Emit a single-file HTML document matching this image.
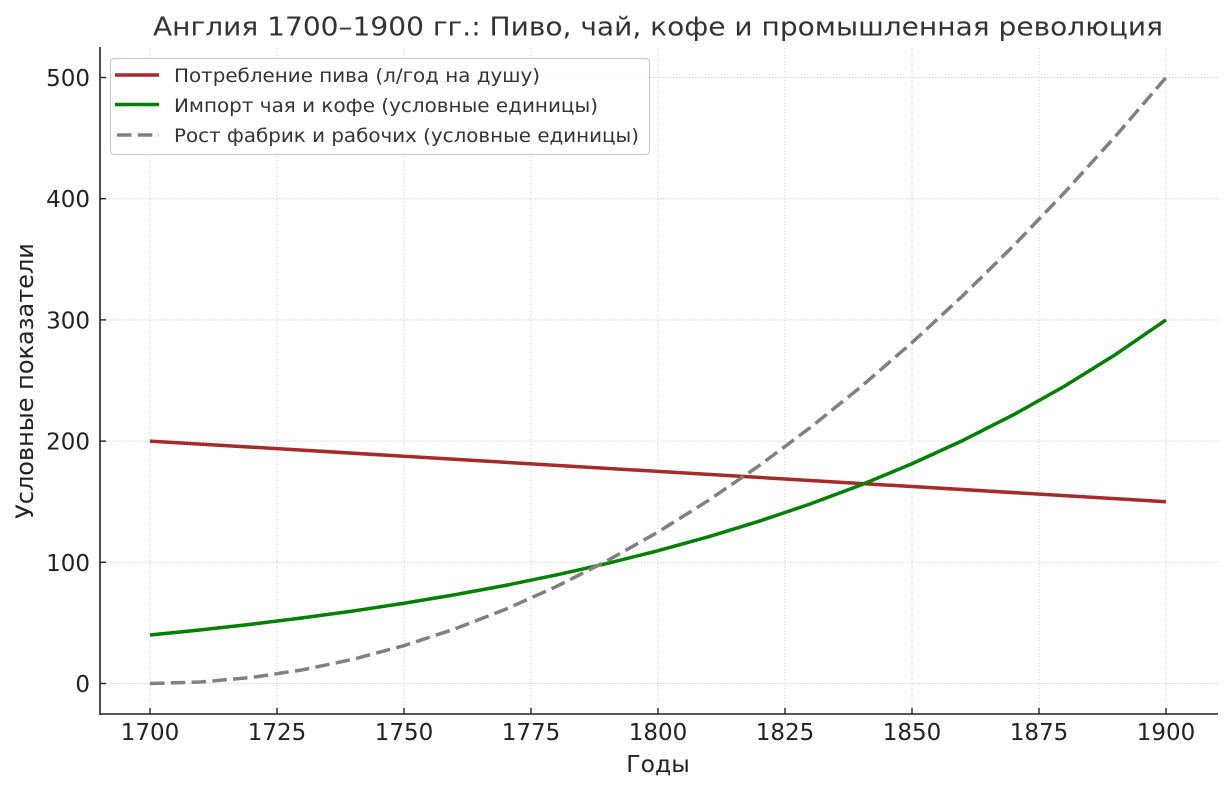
<!DOCTYPE html>
<html><head><meta charset="utf-8"><style>
html,body{margin:0;padding:0;background:#fff}
svg{display:block}
text{font-family:"DejaVu Sans","Liberation Sans",sans-serif}
</style></head><body>
<svg width="1231" height="791" viewBox="0 0 1231 791" xmlns="http://www.w3.org/2000/svg">
<rect width="1231" height="791" fill="#fff"/>
<!-- grid -->
<g stroke="#cccccc" stroke-width="1" stroke-dasharray="1.2,2" fill="none">
<line x1="150" y1="48" x2="150" y2="714"/>
<line x1="277" y1="48" x2="277" y2="714"/>
<line x1="404" y1="48" x2="404" y2="714"/>
<line x1="531" y1="48" x2="531" y2="714"/>
<line x1="658" y1="48" x2="658" y2="714"/>
<line x1="785" y1="48" x2="785" y2="714"/>
<line x1="912" y1="48" x2="912" y2="714"/>
<line x1="1039" y1="48" x2="1039" y2="714"/>
<line x1="1166" y1="48" x2="1166" y2="714"/>
<line x1="100" y1="683.5" x2="1218" y2="683.5"/>
<line x1="100" y1="562.3" x2="1218" y2="562.3"/>
<line x1="100" y1="441.1" x2="1218" y2="441.1"/>
<line x1="100" y1="319.9" x2="1218" y2="319.9"/>
<line x1="100" y1="198.7" x2="1218" y2="198.7"/>
<line x1="100" y1="77.5" x2="1218" y2="77.5"/>
</g>
<!-- series -->
<polyline fill="none" stroke="#a52a2a" stroke-width="3.5" points="150,441.1 1166,501.7"/>
<polyline fill="none" stroke="#008000" stroke-width="3.5" stroke-linejoin="round" points="150,635.02 200.8,629.88 251.6,624.2 302.4,617.91 353.2,610.96 404,603.27 454.8,594.77 505.6,585.35 556.4,574.95 607.2,563.45 658,550.74 708.8,536.65 759.6,521.09 810.4,503.88 861.2,484.84 912,463.77 962.8,440.48 1013.6,414.72 1064.4,386.23 1115.2,354.72 1166,319.9"/>
<polyline fill="none" stroke="#808080" stroke-width="3.5" stroke-dasharray="14.5,6.3" stroke-linejoin="round" points="150,683.5 200.8,681.99 251.6,677.44 302.4,669.87 353.2,659.26 404,645.63 454.8,628.96 505.6,609.26 556.4,586.54 607.2,560.79 658,532 708.8,500.19 759.6,465.34 810.4,427.47 861.2,386.56 912,342.63 962.8,295.66 1013.6,245.66 1064.4,192.64 1115.2,136.58 1166,77.5"/>
<!-- spines -->
<g stroke="#222" stroke-width="1.6" fill="none">
<line x1="100" y1="47" x2="100" y2="714.8"/>
<line x1="99.2" y1="714" x2="1218" y2="714"/>
</g>
<!-- ticks (inward) -->
<g stroke="#222" stroke-width="1.4">
<line x1="150" y1="714" x2="150" y2="708"/>
<line x1="277" y1="714" x2="277" y2="708"/>
<line x1="404" y1="714" x2="404" y2="708"/>
<line x1="531" y1="714" x2="531" y2="708"/>
<line x1="658" y1="714" x2="658" y2="708"/>
<line x1="785" y1="714" x2="785" y2="708"/>
<line x1="912" y1="714" x2="912" y2="708"/>
<line x1="1039" y1="714" x2="1039" y2="708"/>
<line x1="1166" y1="714" x2="1166" y2="708"/>
<line x1="100" y1="683.5" x2="106" y2="683.5"/>
<line x1="100" y1="562.3" x2="106" y2="562.3"/>
<line x1="100" y1="441.1" x2="106" y2="441.1"/>
<line x1="100" y1="319.9" x2="106" y2="319.9"/>
<line x1="100" y1="198.7" x2="106" y2="198.7"/>
<line x1="100" y1="77.5" x2="106" y2="77.5"/>
</g>
<!-- tick labels -->
<g fill="#222" font-size="23" text-anchor="middle">
<text x="150" y="740">1700</text>
<text x="277" y="740">1725</text>
<text x="404" y="740">1750</text>
<text x="531" y="740">1775</text>
<text x="658" y="740">1800</text>
<text x="785" y="740">1825</text>
<text x="912" y="740">1850</text>
<text x="1039" y="740">1875</text>
<text x="1166" y="740">1900</text>
</g>
<g fill="#222" font-size="23" text-anchor="end">
<text x="90" y="692">0</text>
<text x="90" y="570.8">100</text>
<text x="90" y="449.6">200</text>
<text x="90" y="328.4">300</text>
<text x="90" y="207.2">400</text>
<text x="90" y="86">500</text>
</g>
<!-- axis labels -->
<text x="658" y="772" font-size="23.5" fill="#222" text-anchor="middle">Годы</text>
<text transform="translate(33,381) rotate(-90)" font-size="24" fill="#222" text-anchor="middle">Условные показатели</text>
<!-- title -->
<text x="153" y="35.5" font-size="26" fill="#333" textLength="1010" lengthAdjust="spacingAndGlyphs">Англия 1700–1900 гг.: Пиво, чай, кофе и промышленная революция</text>
<!-- legend -->
<rect x="110.5" y="58.5" width="539" height="96" rx="4" ry="4" fill="#fff" fill-opacity="0.85" stroke="#cccccc" stroke-width="1.2"/>
<line x1="115" y1="75" x2="159" y2="75" stroke="#a52a2a" stroke-width="3.5"/>
<line x1="115" y1="104.5" x2="159" y2="104.5" stroke="#008000" stroke-width="3.5"/>
<line x1="117" y1="135" x2="159" y2="135" stroke="#808080" stroke-width="3.5" stroke-dasharray="14.5,6.3"/>
<g fill="#333" font-size="19">
<text x="174" y="82" textLength="366" lengthAdjust="spacingAndGlyphs">Потребление пива (л/год на душу)</text>
<text x="174" y="112" textLength="424" lengthAdjust="spacingAndGlyphs">Импорт чая и кофе (условные единицы)</text>
<text x="174" y="142" textLength="465" lengthAdjust="spacingAndGlyphs">Рост фабрик и рабочих (условные единицы)</text>
</g>
</svg>
</body></html>
